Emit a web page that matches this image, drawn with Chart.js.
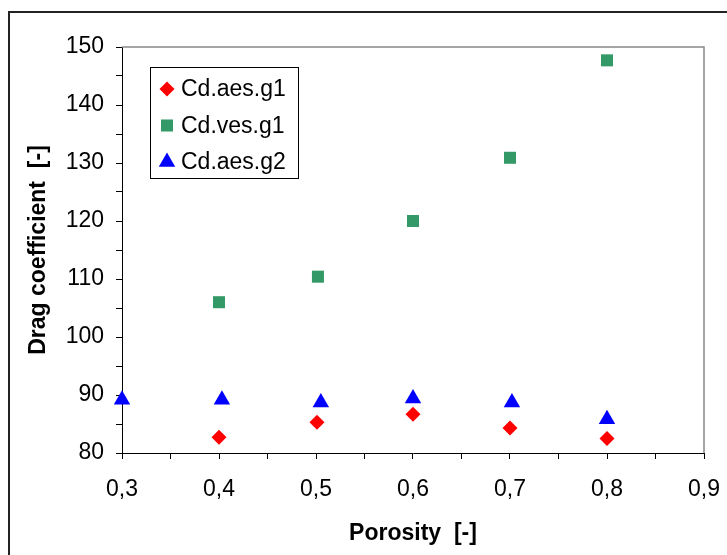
<!DOCTYPE html>
<html>
<head>
<meta charset="utf-8">
<script src="https://cdn.jsdelivr.net/npm/chart.js@4.4.1/dist/chart.umd.min.js"></script>
<style>
  html, body { margin: 0; padding: 0; background: #fff; }
  #wrap { width: 727px; height: 555px; }
</style>
</head>
<body>
<div id="wrap"><canvas id="dragChart" width="727" height="555"></canvas></div>
<script>
// data
const seriesNames = ['Cd.aes.g1', 'Cd.ves.g1', 'Cd.aes.g2'];
const aesG1X = [0.4, 0.501, 0.6, 0.7, 0.8];
const aesG1Y = [82.7, 85.3, 86.7, 84.3, 82.5];
const vesG1X = [0.4, 0.502, 0.6, 0.7, 0.8];
const vesG1Y = [106.0, 110.4, 120.0, 130.9, 147.7];
const aesG2X = [0.3, 0.403, 0.505, 0.6, 0.702, 0.8];
const aesG2Y = [89.2, 89.2, 88.7, 89.4, 88.7, 85.8];

const xTickValues = [0.3, 0.35, 0.4, 0.45, 0.5, 0.55, 0.6, 0.65, 0.7, 0.75, 0.8, 0.85, 0.9];
const xTickLabels = ['0,3', '', '0,4', '', '0,5', '', '0,6', '', '0,7', '', '0,8', '', '0,9'];
const yTickValues = [80, 85, 90, 95, 100, 105, 110, 115, 120, 125, 130, 135, 140, 145, 150];
const yTickLabels = ['80', '', '90', '', '100', '', '110', '', '120', '', '130', '', '140', '', '150'];

const FONT = '"Liberation Sans", Arial, sans-serif';

function toPoints(xs, ys) {
  return xs.map((x, i) => ({ x: x, y: ys[i] }));
}

// frame round the figure + grey top/right edges of the plot
const framePlugin = {
  id: 'frame',
  beforeDatasetsDraw(chart) {
    const ctx = chart.ctx;
    const a = chart.chartArea;
    ctx.save();
    ctx.strokeStyle = '#888';
    ctx.lineWidth = 1.5;
    ctx.beginPath();
    ctx.moveTo(a.left, a.top);
    ctx.lineTo(a.right, a.top);
    ctx.lineTo(a.right, a.bottom);
    ctx.stroke();
    ctx.strokeStyle = '#222';
    ctx.lineWidth = 2;
    ctx.strokeRect(9, 12, 740, 570);
    ctx.restore();
  }
};

// boxed legend inside the plot, top left
const boxLegend = {
  id: 'boxLegend',
  afterDraw(chart) {
    const ctx = chart.ctx;
    const bx = 150, by = 67, bw = 148, bh = 111;
    ctx.save();
    ctx.fillStyle = '#fff';
    ctx.fillRect(bx, by, bw, bh);
    ctx.strokeStyle = '#000';
    ctx.lineWidth = 1;
    ctx.strokeRect(bx + 0.5, by + 0.5, bw, bh);
    ctx.font = '23px ' + FONT;
    ctx.textBaseline = 'middle';
    chart.data.datasets.forEach((ds, i) => {
      const cy = 89 + i * 36.5;
      ctx.fillStyle = ds.backgroundColor;
      ctx.strokeStyle = ds.backgroundColor;
      Chart.helpers.drawPoint(ctx, {
        pointStyle: ds.pointStyle,
        radius: ds.pointRadius,
        borderWidth: 0,
        rotation: 0
      }, 167, cy);
      ctx.fillStyle = '#000';
      ctx.fillText(ds.label, 181, cy + 1);
    });
    ctx.restore();
  }
};

const ctx = document.getElementById('dragChart').getContext('2d');
new Chart(ctx, {
  type: 'scatter',
  data: {
    datasets: [
      {
        label: seriesNames[0],
        data: toPoints(aesG1X, aesG1Y),
        pointStyle: 'rectRot',
        pointRadius: 7.5,
        backgroundColor: '#ff0000',
        borderColor: '#ff0000',
        borderWidth: 0,
        clip: false
      },
      {
        label: seriesNames[1],
        data: toPoints(vesG1X, vesG1Y),
        pointStyle: 'rect',
        pointRadius: 8.5,
        backgroundColor: '#339966',
        borderColor: '#339966',
        borderWidth: 0,
        clip: false
      },
      {
        label: seriesNames[2],
        data: toPoints(aesG2X, aesG2Y),
        pointStyle: 'triangle',
        pointRadius: 9.5,
        backgroundColor: '#0000ff',
        borderColor: '#0000ff',
        borderWidth: 0,
        clip: false
      }
    ]
  },
  options: {
    responsive: false,
    animation: false,
    layout: { padding: { left: 0, top: 47, right: 23, bottom: 0 } },
    plugins: {
      legend: { display: false },
      tooltip: { enabled: false }
    },
    scales: {
      x: {
        type: 'linear',
        min: 0.3,
        max: 0.9,
        afterBuildTicks: (s) => { s.ticks = xTickValues.map(v => ({ value: v })); },
        afterFit: (s) => { s.height = 102; s.paddingLeft = 0; s.paddingRight = 0; },
        ticks: {
          autoSkip: false,
          maxRotation: 0,
          padding: 17,
          color: '#000',
          font: { family: FONT, size: 23 },
          callback: (v, i) => xTickLabels[i]
        },
        grid: {
          drawOnChartArea: false,
          drawTicks: true,
          tickLength: 6,
          color: '#000'
        },
        border: { display: true, color: '#000', width: 1 },
        title: {
          display: true,
          text: 'Porosity  [-]',
          color: '#000',
          font: { family: FONT, size: 23, weight: 'bold' },
          padding: { top: 0, bottom: 8 }
        }
      },
      y: {
        type: 'linear',
        min: 80,
        max: 150,
        afterBuildTicks: (s) => { s.ticks = yTickValues.map(v => ({ value: v })); },
        afterFit: (s) => { s.width = 122; s.paddingTop = 0; s.paddingBottom = 0; },
        ticks: {
          autoSkip: false,
          padding: 12,
          color: '#000',
          font: { family: FONT, size: 23 },
          callback: (v, i) => yTickLabels[i]
        },
        grid: {
          drawOnChartArea: false,
          drawTicks: true,
          tickLength: 6,
          color: '#000'
        },
        border: { display: true, color: '#000', width: 1 },
        title: {
          display: true,
          text: 'Drag coefficient  [-]',
          color: '#000',
          font: { family: FONT, size: 23, weight: 'bold' },
          padding: { top: 25, bottom: 0 }
        }
      }
    }
  },
  plugins: [framePlugin, boxLegend]
});
</script>
</body>
</html>
